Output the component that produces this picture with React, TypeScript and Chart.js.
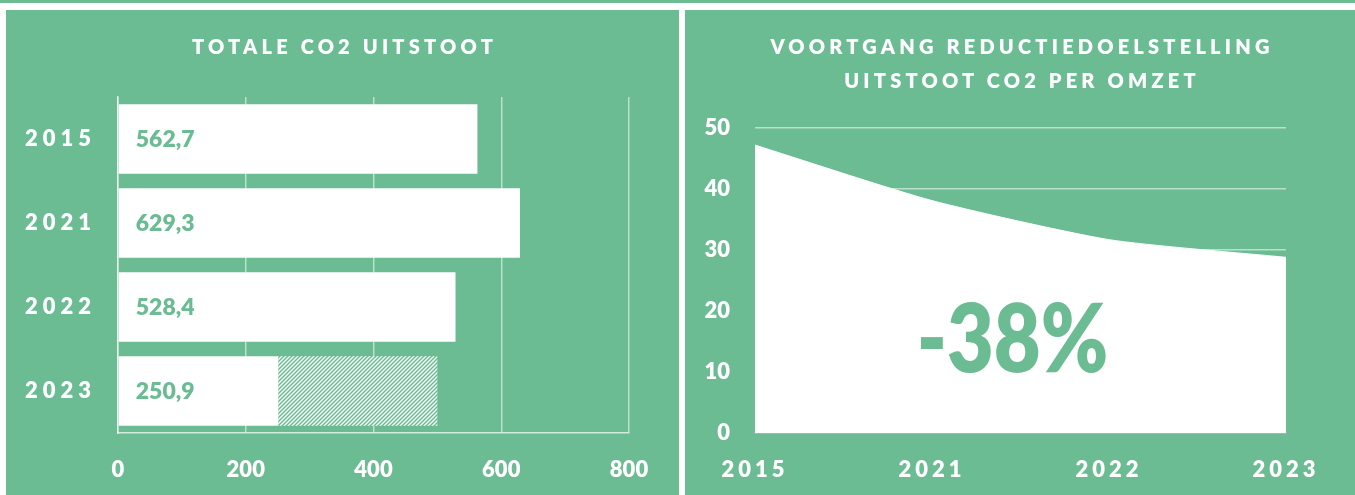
import React, { useEffect, useRef } from 'react';
import { Chart, registerables } from 'chart.js';

Chart.register(...registerables);

// ---------- data ----------
const barYears = ['2015', '2021', '2022', '2023'];
const totalCo2 = [562.7, 629.3, 528.4, 250.9];
const hatchedPart = [0, 0, 0, 249.1];
const barAxisMin = 0;
const barAxisMax = 800;
const barAxisStep = 200;

const areaYears = ['2015', '2021', '2022', '2023'];
const co2PerRevenue = [47.2, 38.1, 31.7, 28.8];
const areaAxisMin = 0;
const areaAxisMax = 50;
const areaAxisStep = 10;
const reductionText = '-38%';

const barTitle = 'TOTALE CO2 UITSTOOT';
const areaTitle = ['VOORTGANG REDUCTIEDOELSTELLING', 'UITSTOOT CO2 PER OMZET'];

// ---------- styles ----------
const GREEN = '#6BBB93';
const GRID = 'rgba(255,255,255,0.55)';
const BORDER = 'rgba(255,255,255,0.7)';
const FONT = 'Lato, "Open Sans", sans-serif';
const W = '800';
const tickFont = { family: FONT, size: 22, weight: W as any };

function makeSpaced(spec: Record<string, string>) {
  return {
    id: 'spacedLabels',
    beforeDraw(chart: any) {
      for (const id of Object.keys(spec)) {
        const s: any = chart.scales[id];
        if (!s || s.__spaced) continue;
        const orig = s.drawLabels.bind(s);
        s.drawLabels = (area: any) => {
          const ctx: any = chart.ctx;
          const prev = ctx.letterSpacing;
          ctx.letterSpacing = spec[id];
          orig(area);
          ctx.letterSpacing = prev || '0px';
        };
        s.__spaced = true;
      }
    },
  };
}

const valueLabels = {
  id: 'valueLabels',
  afterDatasetsDraw(chart: any) {
    const meta = chart.getDatasetMeta(0);
    const ctx = chart.ctx;
    ctx.save();
    ctx.font = `${W} 23px ${FONT}`;
    ctx.fillStyle = GREEN;
    ctx.textAlign = 'left';
    ctx.textBaseline = 'middle';
    meta.data.forEach((el: any, i: number) => {
      const v = chart.data.datasets[0].data[i] as number;
      ctx.fillText(v.toFixed(1).replace('.', ','), el.base + 17, el.y + 1);
    });
    ctx.restore();
  },
};

const bigText = {
  id: 'bigText',
  afterDatasetsDraw(chart: any) {
    const { ctx, chartArea } = chart;
    const y = chart.scales.y.getPixelForValue(15);
    const x = (chartArea.left + chartArea.right) / 2 - 8;
    ctx.save();
    ctx.font = `${W} 94px ${FONT}`;
    ctx.fillStyle = GREEN;
    ctx.textAlign = 'center';
    ctx.textBaseline = 'middle';
    ctx.translate(x, y);
    ctx.scale(0.86, 1);
    ctx.fillText(reductionText, 0, 0);
    ctx.restore();
  },
};

function makeHatch(ctx: CanvasRenderingContext2D) {
  const n = 4;
  const c = document.createElement('canvas');
  c.width = n;
  c.height = n;
  const g = c.getContext('2d')!;
  g.fillStyle = '#ffffff';
  g.fillRect(0, 0, n, n);
  g.strokeStyle = GREEN;
  g.lineWidth = 1.5;
  g.beginPath();
  g.moveTo(0, n);
  g.lineTo(n, 0);
  g.moveTo(-1, 1);
  g.lineTo(1, -1);
  g.moveTo(n - 1, n + 1);
  g.lineTo(n + 1, n - 1);
  g.stroke();
  return ctx.createPattern(c, 'repeat')!;
}

function BarPanel() {
  const ref = useRef<HTMLCanvasElement>(null);
  useEffect(() => {
    const canvas = ref.current!;
    const ctx = canvas.getContext('2d')!;
    const pattern = makeHatch(ctx);
    const chart = new Chart(canvas, {
      type: 'bar',
      data: {
        labels: barYears,
        datasets: [
          { data: totalCo2, backgroundColor: '#ffffff', borderWidth: 0, barPercentage: 0.83, categoryPercentage: 1 },
          { data: hatchedPart, backgroundColor: pattern as any, borderWidth: 0, barPercentage: 0.83, categoryPercentage: 1 },
        ],
      },
      options: {
        indexAxis: 'y',
        responsive: false,
        animation: false,
        layout: { padding: { top: 87, right: 50, left: 0, bottom: 0 } },
        plugins: { legend: { display: false }, tooltip: { enabled: false }, title: { display: false } },
        scales: {
          x: {
            stacked: true,
            min: barAxisMin,
            max: barAxisMax,
            ticks: { stepSize: barAxisStep, color: '#ffffff', font: tickFont, padding: 24 },
            grid: { color: GRID, lineWidth: 1.5, drawTicks: false },
            border: { display: true, color: BORDER, width: 1.5 },
            afterFit: (s: any) => { s.height = 62; },
          },
          y: {
            stacked: true,
            ticks: { color: '#ffffff', font: tickFont, padding: 22 },
            grid: { display: false, drawTicks: false },
            border: { display: true, color: BORDER, width: 1.5 },
            afterFit: (s: any) => { s.width = 112; },
          },
        },
      } as any,
      plugins: [makeSpaced({ y: '5px' }), valueLabels],
    });
    return () => chart.destroy();
  }, []);
  return <canvas ref={ref} width={673} height={485} style={{ display: 'block' }} />;
}

function AreaPanel() {
  const ref = useRef<HTMLCanvasElement>(null);
  useEffect(() => {
    const canvas = ref.current!;
    const chart = new Chart(canvas, {
      type: 'line',
      data: {
        labels: areaYears,
        datasets: [
          {
            data: co2PerRevenue,
            fill: 'origin',
            backgroundColor: '#ffffff',
            borderColor: '#ffffff',
            borderWidth: 1,
            pointRadius: 0,
            tension: 0.2,
          },
        ],
      },
      options: {
        responsive: false,
        animation: false,
        layout: { padding: { top: 118, right: 69, left: 0, bottom: 0 } },
        plugins: { legend: { display: false }, tooltip: { enabled: false }, title: { display: false } },
        scales: {
          x: {
            offset: false,
            grid: { display: false, drawTicks: false },
            border: { display: true, color: '#8FAADC', width: 1.5 },
            ticks: { color: '#ffffff', font: tickFont, padding: 24, maxRotation: 0, autoSkip: false },
            afterFit: (s: any) => { s.height = 62; },
          },
          y: {
            min: areaAxisMin,
            max: areaAxisMax,
            ticks: { stepSize: areaAxisStep, color: '#ffffff', font: tickFont, padding: 25 },
            grid: { color: GRID, lineWidth: 1.5, drawTicks: false },
            border: { display: false },
            afterFit: (s: any) => { s.width = 70; },
          },
        },
      } as any,
      plugins: [makeSpaced({ x: '4px' }), bigText],
    });
    return () => chart.destroy();
  }, []);
  return <canvas ref={ref} width={670} height={485} style={{ display: 'block' }} />;
}

const titleStyle: React.CSSProperties = {
  position: 'absolute',
  left: 0,
  right: 0,
  top: 19,
  textAlign: 'center',
  color: '#ffffff',
  fontFamily: FONT,
  fontWeight: 800,
  fontSize: 20,
  lineHeight: '34px',
  letterSpacing: '4.2px',
  paddingLeft: 4,
  whiteSpace: 'nowrap',
  pointerEvents: 'none',
};

export default function App() {
  useEffect(() => {
    document.body.style.margin = '0';
  }, []);
  return (
    <div style={{ position: 'fixed', left: 0, top: 0, width: 1355, height: 495, background: '#ffffff', overflow: 'hidden' }}>
      <div style={{ position: 'absolute', left: 0, top: 0, width: 1355, height: 3, background: GREEN }} />
      <div style={{ position: 'absolute', left: 6, top: 10, width: 673, height: 485, background: GREEN }}>
        <BarPanel />
        <div style={titleStyle}>{barTitle}</div>
      </div>
      <div style={{ position: 'absolute', left: 685, top: 10, width: 670, height: 485, background: GREEN }}>
        <AreaPanel />
        <div style={titleStyle}>
          {areaTitle.map((t) => (
            <div key={t}>{t}</div>
          ))}
        </div>
      </div>
    </div>
  );
}
